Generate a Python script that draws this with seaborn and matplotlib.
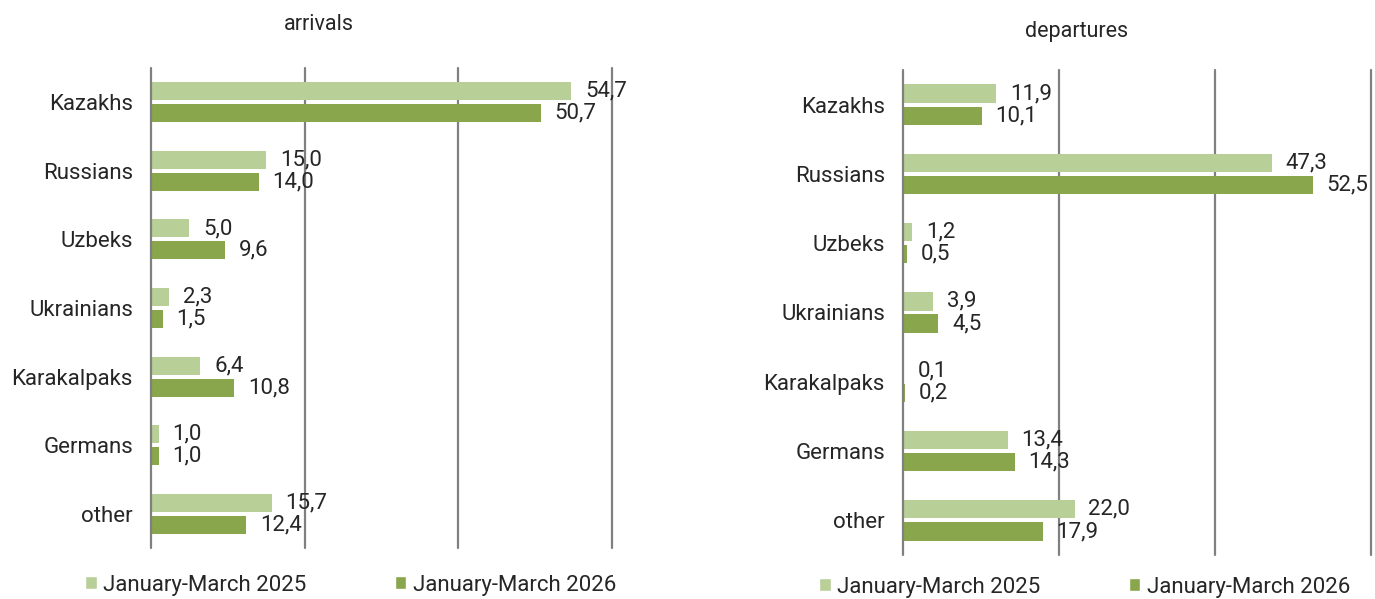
import matplotlib
matplotlib.use("Agg")
import matplotlib.pyplot as plt
import seaborn as sns
import pandas as pd
from matplotlib.patches import Patch

groups = ["Kazakhs", "Russians", "Uzbeks", "Ukrainians", "Karakalpaks", "Germans", "other"]
periods = ["January-March 2025", "January-March 2026"]
arrivals_2025 = [54.7, 15.0, 5.0, 2.3, 6.4, 1.0, 15.7]
arrivals_2026 = [50.7, 14.0, 9.6, 1.5, 10.8, 1.0, 12.4]
departures_2025 = [11.9, 47.3, 1.2, 3.9, 0.1, 13.4, 22.0]
departures_2026 = [10.1, 52.5, 0.5, 4.5, 0.2, 14.3, 17.9]
grid_ticks = [0, 20, 40, 60]

LIGHT = "#B9CF98"
DARK = "#8AA64C"
TXT = "#262626"
GRID = "#808080"

sns.set_theme(style="white")
plt.rcParams["font.family"] = ["Roboto", "DejaVu Sans"]

FS = 16

def long_df(v25, v26):
    rows = []
    for g, a, b in zip(groups, v25, v26):
        rows.append({"group": g, "period": periods[0], "value": a})
        rows.append({"group": g, "period": periods[1], "value": b})
    return pd.DataFrame(rows)

fig = plt.figure(figsize=(13.75, 5.99), dpi=100)

W, H = 1375, 599
def axes_px(x0, x1, y0, y1):
    return fig.add_axes([x0 / W, 1 - y1 / H, (x1 - x0) / W, (y1 - y0) / H])

ax1 = axes_px(151, 612, 68, 548)
ax2 = axes_px(903, 1371, 70, 555)

for ax, v25, v26 in [(ax1, arrivals_2025, arrivals_2026), (ax2, departures_2025, departures_2026)]:
    df = long_df(v25, v26)
    sns.barplot(data=df, y="group", x="value", hue="period", hue_order=periods,
                order=groups, orient="h", palette=[LIGHT, DARK], saturation=1,
                width=0.64, gap=0.18, ax=ax, legend=False, zorder=3, linewidth=0)
    ax.set_xlim(grid_ticks[0], grid_ticks[-1])
    ax.set_xticks(grid_ticks)
    ax.set_xticklabels([])
    ax.grid(False)
    for t in grid_ticks:
        ax.axvline(t, color=GRID, linewidth=1.6, zorder=4 if t == 0 else 1, clip_on=False)
    for s in ax.spines.values():
        s.set_visible(False)
    ax.tick_params(axis="both", length=0)
    ax.tick_params(axis="y", labelsize=FS, labelcolor=TXT, pad=13)
    ax.set_xlabel("")
    ax.set_ylabel("")
    for cont in ax.containers:
        vals = [b.get_width() for b in cont]
        ax.bar_label(cont, labels=[f"{v:.1f}".replace(".", ",") for v in vals],
                     padding=10, fontsize=FS, color=TXT)

fig.text(319 / W, 1 - 25 / H, "arrivals", ha="center", va="center", fontsize=FS - 0.5, color=TXT)
fig.text(1077 / W, 1 - 32 / H, "departures", ha="center", va="center", fontsize=FS - 0.5, color=TXT)

handles = [Patch(facecolor=LIGHT, label=periods[0]), Patch(facecolor=DARK, label=periods[1])]
for cx, cy in [(351 / W, 1 - 585 / H), (1085 / W, 1 - 587 / H)]:
    fig.legend(handles=handles, loc="center", bbox_to_anchor=(cx, cy), ncol=2, frameon=False,
               fontsize=FS, handlelength=0.5, handleheight=0.5, handletextpad=0.3,
               columnspacing=4.0, labelcolor=TXT)

fig.savefig("out.png", dpi=100)
